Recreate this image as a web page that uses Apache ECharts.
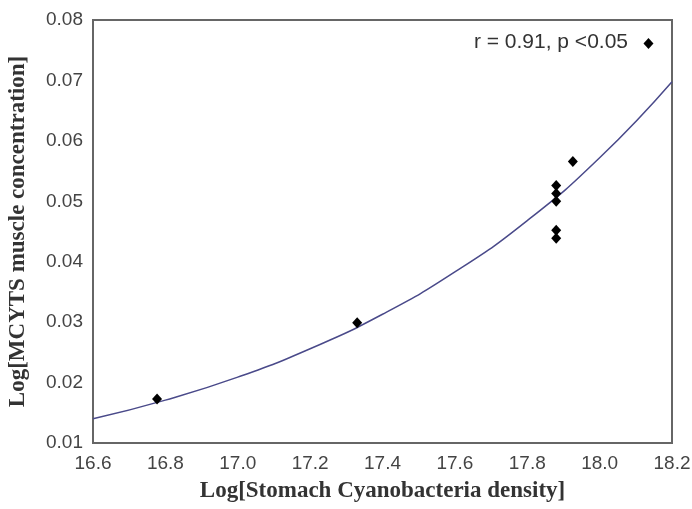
<!DOCTYPE html>
<html>
<head>
<meta charset="utf-8">
<script src="https://cdn.jsdelivr.net/npm/echarts@6/dist/echarts.min.js"></script>
<style>
  html, body { margin: 0; padding: 0; background: #fff; }
  #chart { width: 692px; height: 509px; }
</style>
</head>
<body>
<div id="chart"></div>
<script>
// observed points
const density = [16.777, 17.33, 17.88, 17.88, 17.88, 17.88, 17.88, 17.926, 18.135];
const concentration = [0.0173, 0.0299, 0.0526, 0.0513, 0.0500, 0.0452, 0.0439, 0.0566, 0.0761];

// fitted curve
const curveX = [16.6, 16.8, 17.0, 17.2, 17.4, 17.6, 17.8, 18.0, 18.2];
const curveY = [0.0140, 0.0171, 0.0209, 0.0256, 0.0313, 0.0383, 0.0468, 0.0572, 0.0698];

const annotation = 'r = 0.91, p <0.05';

const chart = echarts.init(document.getElementById('chart'));

const labelStyle = {
  color: '#444',
  fontFamily: 'Liberation Sans, Arial, sans-serif',
  fontSize: 19
};
const titleStyle = {
  color: '#333',
  fontFamily: 'Liberation Serif, Times New Roman, serif',
  fontWeight: 'bold',
  fontSize: 23
};

chart.setOption({
  animation: false,
  grid: {
    left: 93,
    right: 20,
    top: 20,
    bottom: 66,
    outerBoundsMode: 'none',
    containLabel: false,
    show: true,
    borderColor: '#666',
    borderWidth: 2
  },
  xAxis: {
    type: 'value',
    min: 16.6,
    max: 18.2,
    interval: 0.2,
    name: 'Log[Stomach Cyanobacteria density]',
    nameLocation: 'middle',
    nameGap: 37,
    nameTextStyle: titleStyle,
    axisLine: { show: false },
    axisTick: { show: false },
    splitLine: { show: false },
    axisLabel: Object.assign({ margin: 11, formatter: v => v.toFixed(1) }, labelStyle)
  },
  yAxis: {
    type: 'value',
    min: 0.01,
    max: 0.08,
    interval: 0.01,
    name: 'Log[MCYTS muscle concentration]',
    nameLocation: 'middle',
    nameGap: 63,
    nameTextStyle: titleStyle,
    axisLine: { show: false },
    axisTick: { show: false },
    splitLine: { show: false },
    axisLabel: Object.assign({ margin: 10, formatter: v => v.toFixed(2) }, labelStyle)
  },
  graphic: [{
    type: 'text',
    right: 64,
    top: 32,
    style: {
      text: annotation,
      fill: '#333',
      font: '21px "Liberation Sans", Arial, sans-serif'
    }
  }],
  series: [
    {
      type: 'line',
      data: curveX.map((x, i) => [x, curveY[i]]),
      smooth: true,
      showSymbol: false,
      lineStyle: { color: '#4a4a8a', width: 1.5 },
      z: 2
    },
    {
      type: 'scatter',
      data: density.map((x, i) => [x, concentration[i]]),
      symbol: 'diamond',
      symbolSize: [10, 11],
      itemStyle: { color: '#000', opacity: 1 },
      z: 3
    }
  ]
});
</script>
</body>
</html>
